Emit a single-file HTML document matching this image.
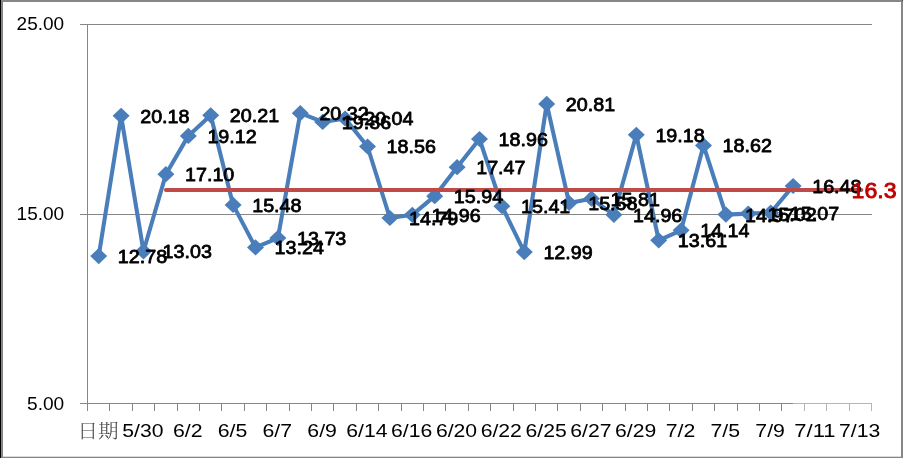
<!DOCTYPE html><html><head><meta charset="utf-8"><title>chart</title><style>html,body{margin:0;padding:0;background:#fff}svg{display:block}text{font-family:"Liberation Sans","Noto Sans CJK SC",sans-serif}</style></head><body>
<svg width="903" height="458" viewBox="0 0 903 458">
<rect x="0" y="0" width="903" height="458" fill="#fff"/>
<rect x="0" y="0" width="903" height="2" fill="#868686"/>
<rect x="0" y="0" width="3" height="458" fill="#868686"/>
<rect x="901" y="0" width="2" height="458" fill="#868686"/>
<rect x="0" y="456.7" width="903" height="1.3" fill="#868686"/>
<rect x="0" y="0" width="1" height="458" fill="#000"/>
<rect x="902" y="0" width="1" height="1" fill="#444"/>
<rect x="80" y="24" width="792" height="1" fill="#868686"/>
<rect x="80" y="214" width="792" height="1" fill="#868686"/>
<rect x="80" y="403" width="792" height="1" fill="#868686"/>
<rect x="87" y="24" width="1" height="380" fill="#868686"/>
<rect x="87" y="404" width="1" height="7" fill="#868686"/>
<rect x="109" y="404" width="1" height="7" fill="#868686"/>
<rect x="132" y="404" width="1" height="7" fill="#868686"/>
<rect x="154" y="404" width="1" height="7" fill="#868686"/>
<rect x="177" y="404" width="1" height="7" fill="#868686"/>
<rect x="199" y="404" width="1" height="7" fill="#868686"/>
<rect x="221" y="404" width="1" height="7" fill="#868686"/>
<rect x="244" y="404" width="1" height="7" fill="#868686"/>
<rect x="266" y="404" width="1" height="7" fill="#868686"/>
<rect x="289" y="404" width="1" height="7" fill="#868686"/>
<rect x="311" y="404" width="1" height="7" fill="#868686"/>
<rect x="333" y="404" width="1" height="7" fill="#868686"/>
<rect x="356" y="404" width="1" height="7" fill="#868686"/>
<rect x="378" y="404" width="1" height="7" fill="#868686"/>
<rect x="401" y="404" width="1" height="7" fill="#868686"/>
<rect x="423" y="404" width="1" height="7" fill="#868686"/>
<rect x="445" y="404" width="1" height="7" fill="#868686"/>
<rect x="468" y="404" width="1" height="7" fill="#868686"/>
<rect x="490" y="404" width="1" height="7" fill="#868686"/>
<rect x="513" y="404" width="1" height="7" fill="#868686"/>
<rect x="535" y="404" width="1" height="7" fill="#868686"/>
<rect x="557" y="404" width="1" height="7" fill="#868686"/>
<rect x="580" y="404" width="1" height="7" fill="#868686"/>
<rect x="602" y="404" width="1" height="7" fill="#868686"/>
<rect x="625" y="404" width="1" height="7" fill="#868686"/>
<rect x="647" y="404" width="1" height="7" fill="#868686"/>
<rect x="669" y="404" width="1" height="7" fill="#868686"/>
<rect x="692" y="404" width="1" height="7" fill="#868686"/>
<rect x="714" y="404" width="1" height="7" fill="#868686"/>
<rect x="737" y="404" width="1" height="7" fill="#868686"/>
<rect x="759" y="404" width="1" height="7" fill="#868686"/>
<rect x="781" y="404" width="1" height="7" fill="#868686"/>
<rect x="804" y="404" width="1" height="7" fill="#868686"/>
<rect x="826" y="404" width="1" height="7" fill="#868686"/>
<rect x="849" y="404" width="1" height="7" fill="#868686"/>
<rect x="871" y="404" width="1" height="7" fill="#868686"/>
<text x="16.6" y="30.1" font-size="18.8" textLength="47.6" lengthAdjust="spacingAndGlyphs" fill="#000">25.00</text>
<text x="16.6" y="220.2" font-size="18.8" textLength="47.6" lengthAdjust="spacingAndGlyphs" fill="#000">15.00</text>
<text x="27.0" y="410.2" font-size="18.8" textLength="37.2" lengthAdjust="spacingAndGlyphs" fill="#000">5.00</text>
<text x="77.5" y="437.6" font-size="19.5" textLength="41" lengthAdjust="spacingAndGlyphs" fill="#444" style="font-family:'Liberation Serif','Noto Serif CJK SC',serif;font-weight:300">日期</text>
<text x="122.3" y="436.6" font-size="18.4" textLength="41.2" lengthAdjust="spacingAndGlyphs" fill="#000">5/30</text>
<text x="172.9" y="436.6" font-size="18.4" textLength="29.6" lengthAdjust="spacingAndGlyphs" fill="#000">6/2</text>
<text x="217.7" y="436.6" font-size="18.4" textLength="29.6" lengthAdjust="spacingAndGlyphs" fill="#000">6/5</text>
<text x="262.5" y="436.6" font-size="18.4" textLength="29.6" lengthAdjust="spacingAndGlyphs" fill="#000">6/7</text>
<text x="307.3" y="436.6" font-size="18.4" textLength="29.6" lengthAdjust="spacingAndGlyphs" fill="#000">6/9</text>
<text x="346.3" y="436.6" font-size="18.4" textLength="41.2" lengthAdjust="spacingAndGlyphs" fill="#000">6/14</text>
<text x="391.1" y="436.6" font-size="18.4" textLength="41.2" lengthAdjust="spacingAndGlyphs" fill="#000">6/16</text>
<text x="435.9" y="436.6" font-size="18.4" textLength="41.2" lengthAdjust="spacingAndGlyphs" fill="#000">6/20</text>
<text x="480.7" y="436.6" font-size="18.4" textLength="41.2" lengthAdjust="spacingAndGlyphs" fill="#000">6/22</text>
<text x="525.5" y="436.6" font-size="18.4" textLength="41.2" lengthAdjust="spacingAndGlyphs" fill="#000">6/25</text>
<text x="570.3" y="436.6" font-size="18.4" textLength="41.2" lengthAdjust="spacingAndGlyphs" fill="#000">6/27</text>
<text x="615.1" y="436.6" font-size="18.4" textLength="41.2" lengthAdjust="spacingAndGlyphs" fill="#000">6/29</text>
<text x="665.7" y="436.6" font-size="18.4" textLength="29.6" lengthAdjust="spacingAndGlyphs" fill="#000">7/2</text>
<text x="710.5" y="436.6" font-size="18.4" textLength="29.6" lengthAdjust="spacingAndGlyphs" fill="#000">7/5</text>
<text x="755.3" y="436.6" font-size="18.4" textLength="29.6" lengthAdjust="spacingAndGlyphs" fill="#000">7/9</text>
<text x="794.3" y="436.6" font-size="18.4" textLength="41.2" lengthAdjust="spacingAndGlyphs" fill="#000">7/11</text>
<text x="839.1" y="436.6" font-size="18.4" textLength="41.2" lengthAdjust="spacingAndGlyphs" fill="#000">7/13</text>
<polyline points="98.7,256.1 121.1,115.8 143.5,251.3 165.9,174.2 188.3,135.9 210.7,115.3 233.1,204.9 255.5,247.4 277.9,238.1 300.3,113.2 322.7,121.9 345.1,118.5 367.5,146.5 389.9,218.0 412.3,214.8 434.7,196.2 457.1,167.2 479.5,139.0 501.9,206.2 524.3,252.1 546.7,103.9 569.1,203.0 591.5,198.7 613.9,214.8 636.3,134.8 658.7,240.3 681.1,230.3 703.5,145.4 725.9,214.6 748.3,213.6 770.7,212.7 793.1,186.0" fill="none" stroke="#4A7EBB" stroke-width="4.1" stroke-linejoin="round" stroke-linecap="round"/>
<path d="M90.2 256.1L98.7 248.0L107.2 256.1L98.7 264.2Z" fill="#4A7EBB"/>
<path d="M112.6 115.8L121.1 107.7L129.6 115.8L121.1 123.9Z" fill="#4A7EBB"/>
<path d="M135.0 251.3L143.5 243.2L152.0 251.3L143.5 259.4Z" fill="#4A7EBB"/>
<path d="M157.4 174.2L165.9 166.1L174.4 174.2L165.9 182.3Z" fill="#4A7EBB"/>
<path d="M179.8 135.9L188.3 127.8L196.8 135.9L188.3 144.0Z" fill="#4A7EBB"/>
<path d="M202.2 115.3L210.7 107.2L219.2 115.3L210.7 123.4Z" fill="#4A7EBB"/>
<path d="M224.6 204.9L233.1 196.8L241.6 204.9L233.1 213.0Z" fill="#4A7EBB"/>
<path d="M247.0 247.4L255.5 239.3L264.0 247.4L255.5 255.5Z" fill="#4A7EBB"/>
<path d="M269.4 238.1L277.9 230.0L286.4 238.1L277.9 246.2Z" fill="#4A7EBB"/>
<path d="M291.8 113.2L300.3 105.1L308.8 113.2L300.3 121.3Z" fill="#4A7EBB"/>
<path d="M314.2 121.9L322.7 113.8L331.2 121.9L322.7 130.0Z" fill="#4A7EBB"/>
<path d="M336.6 118.5L345.1 110.4L353.6 118.5L345.1 126.6Z" fill="#4A7EBB"/>
<path d="M359.0 146.5L367.5 138.4L376.0 146.5L367.5 154.6Z" fill="#4A7EBB"/>
<path d="M381.4 218.0L389.9 209.9L398.4 218.0L389.9 226.1Z" fill="#4A7EBB"/>
<path d="M403.8 214.8L412.3 206.7L420.8 214.8L412.3 222.9Z" fill="#4A7EBB"/>
<path d="M426.2 196.2L434.7 188.1L443.2 196.2L434.7 204.3Z" fill="#4A7EBB"/>
<path d="M448.6 167.2L457.1 159.1L465.6 167.2L457.1 175.3Z" fill="#4A7EBB"/>
<path d="M471.0 139.0L479.5 130.9L488.0 139.0L479.5 147.1Z" fill="#4A7EBB"/>
<path d="M493.4 206.2L501.9 198.1L510.4 206.2L501.9 214.3Z" fill="#4A7EBB"/>
<path d="M515.8 252.1L524.3 244.0L532.8 252.1L524.3 260.2Z" fill="#4A7EBB"/>
<path d="M538.2 103.9L546.7 95.8L555.2 103.9L546.7 112.0Z" fill="#4A7EBB"/>
<path d="M560.6 203.0L569.1 194.9L577.6 203.0L569.1 211.1Z" fill="#4A7EBB"/>
<path d="M583.0 198.7L591.5 190.6L600.0 198.7L591.5 206.8Z" fill="#4A7EBB"/>
<path d="M605.4 214.8L613.9 206.7L622.4 214.8L613.9 222.9Z" fill="#4A7EBB"/>
<path d="M627.8 134.8L636.3 126.7L644.8 134.8L636.3 142.9Z" fill="#4A7EBB"/>
<path d="M650.2 240.3L658.7 232.2L667.2 240.3L658.7 248.4Z" fill="#4A7EBB"/>
<path d="M672.6 230.3L681.1 222.2L689.6 230.3L681.1 238.4Z" fill="#4A7EBB"/>
<path d="M695.0 145.4L703.5 137.3L712.0 145.4L703.5 153.5Z" fill="#4A7EBB"/>
<path d="M717.4 214.6L725.9 206.5L734.4 214.6L725.9 222.7Z" fill="#4A7EBB"/>
<path d="M739.8 213.6L748.3 205.5L756.8 213.6L748.3 221.7Z" fill="#4A7EBB"/>
<path d="M762.2 212.7L770.7 204.6L779.2 212.7L770.7 220.8Z" fill="#4A7EBB"/>
<path d="M784.6 186.0L793.1 177.9L801.6 186.0L793.1 194.1Z" fill="#4A7EBB"/>
<line x1="165.9" y1="190.0" x2="861.3" y2="190.0" stroke="#BE4B48" stroke-width="4" stroke-linecap="round"/>
<text x="117.8" y="263.0" font-size="18.9" stroke="#000" stroke-width="0.8" stroke-linejoin="round" textLength="49.3" lengthAdjust="spacingAndGlyphs" fill="#000">12.78</text>
<text x="140.2" y="122.7" font-size="18.9" stroke="#000" stroke-width="0.8" stroke-linejoin="round" textLength="49.3" lengthAdjust="spacingAndGlyphs" fill="#000">20.18</text>
<text x="162.6" y="258.2" font-size="18.9" stroke="#000" stroke-width="0.8" stroke-linejoin="round" textLength="49.3" lengthAdjust="spacingAndGlyphs" fill="#000">13.03</text>
<text x="185.0" y="181.1" font-size="18.9" stroke="#000" stroke-width="0.8" stroke-linejoin="round" textLength="49.3" lengthAdjust="spacingAndGlyphs" fill="#000">17.10</text>
<text x="207.4" y="142.8" font-size="18.9" stroke="#000" stroke-width="0.8" stroke-linejoin="round" textLength="49.3" lengthAdjust="spacingAndGlyphs" fill="#000">19.12</text>
<text x="229.8" y="122.2" font-size="18.9" stroke="#000" stroke-width="0.8" stroke-linejoin="round" textLength="49.3" lengthAdjust="spacingAndGlyphs" fill="#000">20.21</text>
<text x="252.2" y="211.8" font-size="18.9" stroke="#000" stroke-width="0.8" stroke-linejoin="round" textLength="49.3" lengthAdjust="spacingAndGlyphs" fill="#000">15.48</text>
<text x="274.6" y="254.3" font-size="18.9" stroke="#000" stroke-width="0.8" stroke-linejoin="round" textLength="49.3" lengthAdjust="spacingAndGlyphs" fill="#000">13.24</text>
<text x="297.0" y="245.0" font-size="18.9" stroke="#000" stroke-width="0.8" stroke-linejoin="round" textLength="49.3" lengthAdjust="spacingAndGlyphs" fill="#000">13.73</text>
<text x="319.4" y="120.1" font-size="18.9" stroke="#000" stroke-width="0.8" stroke-linejoin="round" textLength="49.3" lengthAdjust="spacingAndGlyphs" fill="#000">20.32</text>
<text x="341.8" y="128.8" font-size="18.9" stroke="#000" stroke-width="0.8" stroke-linejoin="round" textLength="49.3" lengthAdjust="spacingAndGlyphs" fill="#000">19.86</text>
<text x="364.2" y="125.4" font-size="18.9" stroke="#000" stroke-width="0.8" stroke-linejoin="round" textLength="49.3" lengthAdjust="spacingAndGlyphs" fill="#000">20.04</text>
<text x="386.6" y="153.4" font-size="18.9" stroke="#000" stroke-width="0.8" stroke-linejoin="round" textLength="49.3" lengthAdjust="spacingAndGlyphs" fill="#000">18.56</text>
<text x="409.0" y="224.9" font-size="18.9" stroke="#000" stroke-width="0.8" stroke-linejoin="round" textLength="49.3" lengthAdjust="spacingAndGlyphs" fill="#000">14.79</text>
<text x="431.4" y="221.7" font-size="18.9" stroke="#000" stroke-width="0.8" stroke-linejoin="round" textLength="49.3" lengthAdjust="spacingAndGlyphs" fill="#000">14.96</text>
<text x="453.8" y="203.1" font-size="18.9" stroke="#000" stroke-width="0.8" stroke-linejoin="round" textLength="49.3" lengthAdjust="spacingAndGlyphs" fill="#000">15.94</text>
<text x="476.2" y="174.1" font-size="18.9" stroke="#000" stroke-width="0.8" stroke-linejoin="round" textLength="49.3" lengthAdjust="spacingAndGlyphs" fill="#000">17.47</text>
<text x="498.6" y="145.9" font-size="18.9" stroke="#000" stroke-width="0.8" stroke-linejoin="round" textLength="49.3" lengthAdjust="spacingAndGlyphs" fill="#000">18.96</text>
<text x="521.0" y="213.1" font-size="18.9" stroke="#000" stroke-width="0.8" stroke-linejoin="round" textLength="49.3" lengthAdjust="spacingAndGlyphs" fill="#000">15.41</text>
<text x="543.4" y="259.0" font-size="18.9" stroke="#000" stroke-width="0.8" stroke-linejoin="round" textLength="49.3" lengthAdjust="spacingAndGlyphs" fill="#000">12.99</text>
<text x="565.8" y="110.8" font-size="18.9" stroke="#000" stroke-width="0.8" stroke-linejoin="round" textLength="49.3" lengthAdjust="spacingAndGlyphs" fill="#000">20.81</text>
<text x="588.2" y="209.9" font-size="18.9" stroke="#000" stroke-width="0.8" stroke-linejoin="round" textLength="49.3" lengthAdjust="spacingAndGlyphs" fill="#000">15.58</text>
<text x="610.6" y="205.6" font-size="18.9" stroke="#000" stroke-width="0.8" stroke-linejoin="round" textLength="49.3" lengthAdjust="spacingAndGlyphs" fill="#000">15.81</text>
<text x="633.0" y="221.7" font-size="18.9" stroke="#000" stroke-width="0.8" stroke-linejoin="round" textLength="49.3" lengthAdjust="spacingAndGlyphs" fill="#000">14.96</text>
<text x="655.4" y="141.7" font-size="18.9" stroke="#000" stroke-width="0.8" stroke-linejoin="round" textLength="49.3" lengthAdjust="spacingAndGlyphs" fill="#000">19.18</text>
<text x="677.8" y="247.2" font-size="18.9" stroke="#000" stroke-width="0.8" stroke-linejoin="round" textLength="49.3" lengthAdjust="spacingAndGlyphs" fill="#000">13.61</text>
<text x="700.2" y="237.2" font-size="18.9" stroke="#000" stroke-width="0.8" stroke-linejoin="round" textLength="49.3" lengthAdjust="spacingAndGlyphs" fill="#000">14.14</text>
<text x="722.6" y="152.3" font-size="18.9" stroke="#000" stroke-width="0.8" stroke-linejoin="round" textLength="49.3" lengthAdjust="spacingAndGlyphs" fill="#000">18.62</text>
<text x="745.0" y="221.5" font-size="18.9" stroke="#000" stroke-width="0.8" stroke-linejoin="round" textLength="49.3" lengthAdjust="spacingAndGlyphs" fill="#000">14.97</text>
<text x="767.4" y="220.5" font-size="18.9" stroke="#000" stroke-width="0.8" stroke-linejoin="round" textLength="49.3" lengthAdjust="spacingAndGlyphs" fill="#000">15.02</text>
<text x="789.8" y="219.6" font-size="18.9" stroke="#000" stroke-width="0.8" stroke-linejoin="round" textLength="49.3" lengthAdjust="spacingAndGlyphs" fill="#000">15.07</text>
<text x="812.2" y="192.9" font-size="18.9" stroke="#000" stroke-width="0.8" stroke-linejoin="round" textLength="49.3" lengthAdjust="spacingAndGlyphs" fill="#000">16.48</text>
<text x="851.6" y="198" font-size="22.2" stroke="#C00000" stroke-width="0.9" stroke-linejoin="round" textLength="45" lengthAdjust="spacingAndGlyphs" fill="#C00000">16.3</text>
<rect x="793" y="401" width="80" height="12" fill="#fff" opacity="0.4"/>
<rect x="800" y="440" width="62" height="5" fill="#fff" opacity="0.3"/>
</svg></body></html>
